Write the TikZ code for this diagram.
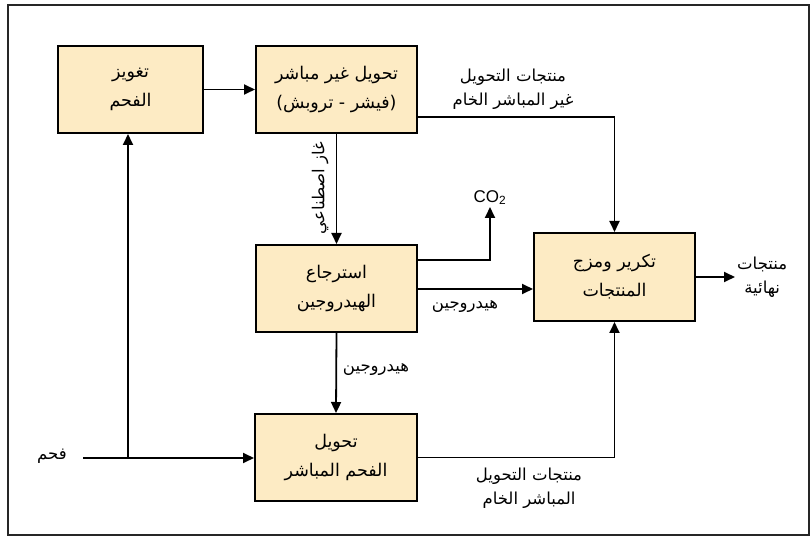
\documentclass[tikz,border=0pt]{standalone}
\usepackage{fontspec}
\setmainfont{Liberation Sans}
\newfontfamily\arabicfont[Script=Arabic]{DejaVu Sans}
\TeXXeTstate=1
\usetikzlibrary{arrows.meta}

% right-to-left Arabic line
\newcommand\ar[1]{{\arabicfont\beginR #1\endR}}

\definecolor{boxfill}{HTML}{FDEBC4}

\tikzset{
  procbox/.style={draw=black, line width=2pt, fill=boxfill, rectangle,
    minimum width=161pt, minimum height=87pt, align=center,
    font=\fontsize{17.5}{29}\selectfont, inner sep=0pt},
  flow/.style={line width=1.8pt, -{Triangle[length=11pt,width=10pt]}},
  flowlabel/.style={align=center, font=\fontsize{16.5}{24}\selectfont, inner sep=1pt}
}

\begin{document}
\begin{tikzpicture}[x=1pt,y=-1pt]
\useasboundingbox (0,0) rectangle (812,537);
\draw[line width=1.5pt, draw=black!85] (8,5) rectangle (809,535);

% process boxes
\node[procbox, minimum width=145pt] (gas) at (130.5,89.5) {\ar{تغويز}\\\ar{الفحم}};
\node[procbox] (indirect) at (336.5,89.5) {\ar{تحويل غير مباشر}\\\ar{(فيشر - تروبش)}};
\node[procbox] (recovery) at (336.5,288.5) {\ar{استرجاع}\\\ar{الهيدروجين}};
\node[procbox, minimum width=162pt] (direct) at (336,457.5) {\ar{تحويل}\\\ar{الفحم المباشر}};
\node[procbox, minimum height=88pt] (refine) at (614.5,277) {\ar{تكرير ومزج}\\\ar{المنتجات}};

% free labels
\node[flowlabel] (coal) at (52,456) {\ar{فحم}};
\node[font=\fontsize{17}{20}\selectfont, inner sep=2pt, anchor=south] (co2) at (490,207) {CO\textsubscript{2}};
\node[flowlabel, anchor=west, inner sep=2pt] (final) at (735,277) {\ar{منتجات}\\\ar{نهائية}};
\node[flowlabel, rotate=90] (syngas) at (320,188) {\ar{غاز اصطناعي}};

\coordinate (coalin) at (83,458);
\coordinate (split) at (128,458);

% connectors
\draw[flow] (gas.east) -- (indirect.west);
\draw[flow] (indirect.south) -- (recovery.north);
\draw[flow] (indirect.east |- 0,117) -| (refine.north);
\node[flowlabel] (ilabel) at (513,89) {\ar{منتجات التحويل}\\\ar{غير المباشر الخام}};
\draw[flow] (recovery.east |- 0,260) -| (co2.south);
\draw[flow] (recovery.east |- 0,289) -- (refine.west |- 0,289);
\node[flowlabel] (h2a) at (465,306) {\ar{هيدروجين}};
\draw[flow] (recovery.south) -- (direct.north);
\node[flowlabel] (h2b) at (376,369) {\ar{هيدروجين}};
\draw[line width=1.8pt] (coalin) -- (split);
\draw[flow] (split) -- (direct.west |- split);
\draw[flow] (split) -- (split |- gas.south);
\draw[flow] (direct.east) -| (refine.south);
\node[flowlabel] (dlabel) at (529,488) {\ar{منتجات التحويل}\\\ar{المباشر الخام}};
\draw[flow] (refine.east) -- (final.west);
\end{tikzpicture}
\end{document}
